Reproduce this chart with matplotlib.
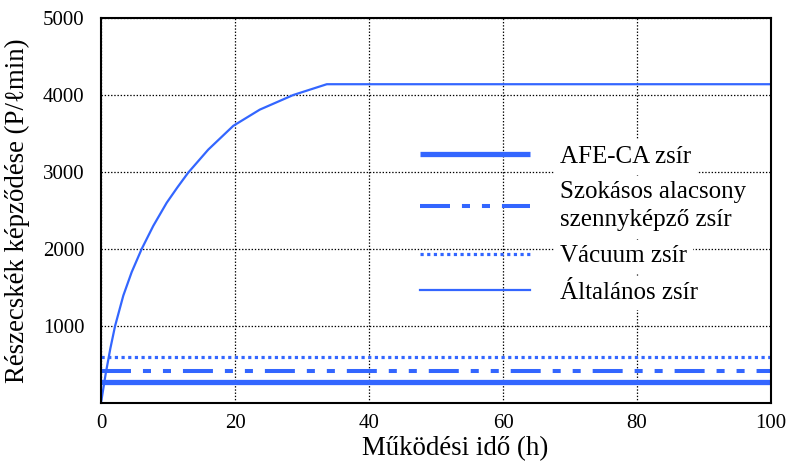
import matplotlib
matplotlib.use("Agg")
import matplotlib.pyplot as plt

############################################
# DATA
############################################

# general grease: rises then stays flat
t_general = [0, 0.7, 1.4, 2.1, 3.33, 4.58, 6.07, 7.8, 9.8, 11.4, 13.0,
             16.0, 19.75, 23.7, 28.7, 33.7, 100]
p_general = [0, 380, 710, 1000, 1395, 1700, 2000, 2300, 2600, 2800, 2990,
             3290, 3600, 3810, 4000, 4140, 4140]

t_const = [0, 100]
p_afe = [270, 270]
p_szokasos = [420, 420]
p_vacuum = [600, 600]

labels = ["AFE-CA zsír", "Szokásos alacsony\nszennyképző zsír",
          "Vácuum zsír", "Általános zsír"]

x_ticks = [0, 20, 40, 60, 80, 100]
y_ticks = [1000, 2000, 3000, 4000, 5000]

############################################
# PLOT
############################################

plt.rcParams["font.family"] = ["Liberation Serif", "DejaVu Serif"]
plt.rcParams["lines.scale_dashes"] = False

BLUE = "#3366ff"

fig = plt.figure(figsize=(7.94, 4.65), dpi=100)
ax = fig.add_axes([101/794, 62/465, 670/794, 385/465])

ax.plot(t_const, p_afe, color=BLUE, lw=3.8, solid_capstyle="butt", label=labels[0])
ax.plot(t_const, p_szokasos, color=BLUE, lw=2.9,
        linestyle=(0, (21.6, 8.6, 5.8, 8.6, 5.8, 8.6)), dash_capstyle="butt", label=labels[1])
ax.plot(t_const, p_vacuum, color=BLUE, lw=2.3,
        linestyle=(0, (2.3, 2.5)), dash_capstyle="butt", label=labels[2])
ax.plot(t_general, p_general, color=BLUE, lw=1.6, label=labels[3])

ax.set_xlim(0, 100)
ax.set_ylim(0, 5000)
ax.set_xticks(x_ticks)
ax.set_yticks(y_ticks)
ax.tick_params(axis="both", length=0, labelsize=15)
ax.tick_params(axis="x", pad=8)
ax.tick_params(axis="y", pad=12)

ax.grid(True, color="black", lw=0.9, linestyle=(0, (1, 1.3)))
ax.set_axisbelow(True)
for s in ax.spines.values():
    s.set_linewidth(1.5)

ax.set_xlabel("Működési idő (h)", fontsize=19.4)
ax.xaxis.set_label_coords(0.528, -0.085)
ax.set_ylabel("Részecskék képződése (P/ℓmin)", fontsize=19.4, labelpad=9)

leg = ax.legend(loc="upper left", bbox_to_anchor=(0.461, 0.696), frameon=False,
                fontsize=18, handlelength=4.4, handletextpad=1.2,
                labelspacing=0.55, borderaxespad=0)
for t in leg.get_texts():
    t.set_linespacing(1.35)
    t.set_backgroundcolor("white")

fig.savefig("out.png", dpi=100)
